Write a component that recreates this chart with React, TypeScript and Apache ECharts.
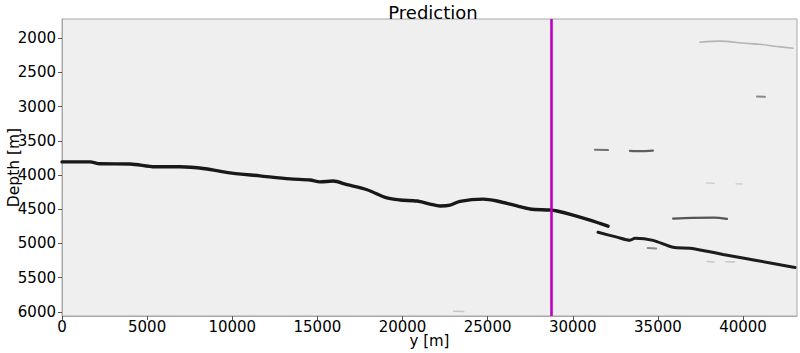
import React, { useEffect, useRef } from "react";
import * as echarts from "echarts";

const xTicks = [0, 5000, 10000, 15000, 20000, 25000, 30000, 35000, 40000];
const depthTicks = [2000, 2500, 3000, 3500, 4000, 4500, 5000, 5500, 6000];
const xRange = [0, 43170];
const depthRange = [1720, 6060];
const wellX = 28760;

const horizonMain: number[][] = [
  [0, 3808], [1645, 3808], [2232, 3836], [3994, 3838], [5463, 3880], [6931, 3880],
  [8399, 3908], [9868, 3968], [11630, 4012], [13392, 4056], [14567, 4073], [15154, 4100],
  [15918, 4088], [16740, 4140], [17915, 4215], [19090, 4335], [19853, 4365], [20852, 4380],
  [21615, 4424], [22203, 4452], [22790, 4440], [23377, 4384], [24728, 4352], [25551, 4380],
  [26725, 4452], [27489, 4497], [28664, 4512], [29075, 4526], [30015, 4585], [31013, 4660],
  [32070, 4748],
];
const horizonDeep: number[][] = [
  [31483, 4837], [32599, 4908], [33363, 4952], [33656, 4925], [34714, 4955], [35888, 5056],
  [36887, 5070], [37885, 5114], [38825, 5160], [39824, 5204], [41762, 5292], [43054, 5352],
];
const streakTop: number[][] = [
  [37470, 2060], [38650, 2044], [40120, 2074], [41000, 2090], [41880, 2118], [42940, 2147],
];
const streakA: number[][] = [[40820, 2852], [41290, 2856]];
const streakB: number[][] = [[31300, 3630], [32070, 3636]];
const streakC: number[][] = [[33360, 3646], [34000, 3652], [34710, 3642]];
const streakD: number[][] = [[35890, 4636], [37000, 4626], [38300, 4622], [39060, 4640]];
const streakE: number[][] = [[34400, 5068], [34900, 5074]];
const faintA: number[][] = [[37850, 4115], [38300, 4120]];
const faintB: number[][] = [[39600, 4128], [39950, 4132]];
const faintC: number[][] = [[37900, 5265], [38300, 5270]];
const faintD: number[][] = [[39000, 5268], [39500, 5272]];
const faintE: number[][] = [[23000, 5990], [23600, 5996]];

function lineSeries(data: number[][], color: string, width: number, opacity = 1) {
  return {
    type: "line",
    data,
    smooth: 0.3,
    showSymbol: false,
    symbol: "none",
    silent: true,
    lineStyle: { color, width, opacity, cap: "round" },
  };
}

export default function App() {
  const ref = useRef<HTMLDivElement>(null);
  useEffect(() => {
    if (!ref.current) return;
    const chart = echarts.init(ref.current, null, { renderer: "svg" });
    const font = "DejaVu Sans";
    chart.setOption({
      animation: false,
      title: {
        text: "Prediction",
        left: 428,
        textAlign: "center",
        top: -2,
        textStyle: { fontFamily: font, fontSize: 18, fontWeight: "normal", color: "#000" },
      },
      grid: {
        left: 62,
        right: 3,
        top: 19,
        bottom: 37,
        containLabel: false,
        outerBoundsMode: "none",
        show: true,
        backgroundColor: "#efefef",
        borderColor: "#a8a8a8",
        borderWidth: 1,
      },
      xAxis: {
        type: "value",
        min: xRange[0],
        max: xRange[1],
        name: "y [m]",
        nameLocation: "middle",
        nameGap: 17,
        nameMoveOverlap: false,
        nameTextStyle: { fontFamily: font, fontSize: 15, color: "#000", verticalAlign: "top" },
        splitLine: { show: false },
        axisLine: { show: true, lineStyle: { color: "#a8a8a8" } },
        axisTick: { show: true, customValues: xTicks, length: 4, lineStyle: { color: "#555" } },
        axisLabel: {
          customValues: xTicks,
          formatter: (v: number) => String(v),
          fontFamily: font,
          fontSize: 15,
          color: "#000",
          margin: 3,
        },
      },
      yAxis: {
        type: "value",
        inverse: true,
        min: depthRange[0],
        max: depthRange[1],
        name: "Depth [m]",
        nameLocation: "middle",
        nameGap: 40,
        nameMoveOverlap: false,
        nameTextStyle: { fontFamily: font, fontSize: 15.5, color: "#000" },
        splitLine: { show: false },
        axisLine: { show: true, lineStyle: { color: "#a8a8a8" } },
        axisTick: { show: true, customValues: depthTicks, length: 4, lineStyle: { color: "#555" } },
        axisLabel: {
          customValues: depthTicks,
          formatter: (v: number) => String(v),
          fontFamily: font,
          fontSize: 15,
          color: "#000",
          margin: 6,
        },
      },
      series: [
        lineSeries(faintA, "#cfcfcf", 1.5),
        lineSeries(faintB, "#cfcfcf", 1.5),
        lineSeries(faintC, "#c6c6c6", 1.5),
        lineSeries(faintD, "#c6c6c6", 1.5),
        lineSeries(faintE, "#c8c8c8", 1.5),
        lineSeries(streakTop, "#b4b4b4", 1.6),
        lineSeries(streakA, "#8a8a8a", 2),
        lineSeries(streakB, "#707070", 2),
        lineSeries(streakC, "#606060", 2.2),
        lineSeries(streakD, "#555555", 2.2),
        lineSeries(streakE, "#8a8a8a", 2),
        lineSeries(horizonDeep, "#1c1c1c", 3),
        {
          ...lineSeries(horizonMain, "#181818", 3.4),
          markLine: {
            silent: true,
            symbol: "none",
            label: { show: false },
            lineStyle: { color: "#bf00bf", width: 2.6, type: "solid" },
            data: [{ xAxis: wellX }],
          },
        },
      ],
    });
    return () => chart.dispose();
  }, []);
  return (
    <div
      ref={ref}
      style={{ position: "fixed", left: 0, top: 0, width: 800, height: 353, background: "#fff" }}
    />
  );
}
